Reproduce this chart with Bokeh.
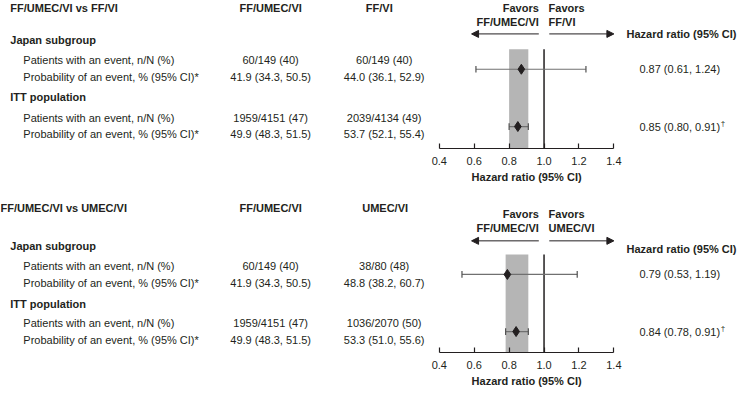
from bokeh.plotting import figure
from bokeh.layouts import column
from bokeh.models import Range1d, FixedTicker, PrintfTickFormatter, Arrow, NormalHead, Title
from bokeh.core.properties import value
from bokeh.embed import file_html
from bokeh.resources import INLINE

# ---------------- data ----------------
comparisons = ["FF/UMEC/VI vs FF/VI", "FF/UMEC/VI vs UMEC/VI"]
treatment = "FF/UMEC/VI"
comparators = ["FF/VI", "UMEC/VI"]
groups = ["Japan subgroup", "ITT population"]
row_labels = ["Patients with an event, n/N (%)", "Probability of an event, % (95% CI)*"]

trt_events = ["60/149 (40)", "1959/4151 (47)"]
trt_prob = ["41.9 (34.3, 50.5)", "49.9 (48.3, 51.5)"]

ffvi_events = ["60/149 (40)", "2039/4134 (49)"]
ffvi_prob = ["44.0 (36.1, 52.9)", "53.7 (52.1, 55.4)"]
umecvi_events = ["38/80 (48)", "1036/2070 (50)"]
umecvi_prob = ["48.8 (38.2, 60.7)", "53.3 (51.0, 55.6)"]

hr_ffvi = [0.87, 0.85]
lo_ffvi = [0.61, 0.80]
hi_ffvi = [1.24, 0.91]
hr_umecvi = [0.79, 0.84]
lo_umecvi = [0.53, 0.78]
hi_umecvi = [1.19, 0.91]
footnote_marks = ["", "\u2020"]

hr_ticks = [0.4, 0.6, 0.8, 1.0, 1.2, 1.4]
axis_title = "Hazard ratio (95% CI)"

# ---------------- style ----------------
FONT = "Liberation Sans"
TXT = "#231f20"
FS = "11px"
REF_W = 753.0
CANVAS_W = 737
AX0_PX, AX1_PX = 448.3, 626.7          # pixel anchors of HR 0.4 and 1.4
per = (AX1_PX - AX0_PX) / (hr_ticks[-1] - hr_ticks[0])
HR_START = hr_ticks[0] - AX0_PX / per
HR_END = hr_ticks[-1] + (REF_W - AX1_PX) / per
TITLE_W = 110  # approx rendered width of the bold axis title
title_offset = ((AX0_PX + AX1_PX) / 2) * CANVAS_W / REF_W - TITLE_W / 2


def make_panel(comp_title, comp_name, comp_events, comp_prob, hr, lo, hi, L):
    p = figure(frame_width=CANVAS_W, frame_height=L["frame_h"],
               x_range=Range1d(HR_START, HR_END),
               y_range=Range1d(L["axis_y"], L["y_top"]),
               output_backend="svg", toolbar_location=None,
               y_axis_location=None,
               min_border_left=0, min_border_right=0, min_border_top=0,
               min_border_bottom=L["mb"])
    p.extra_x_ranges = {"px": Range1d(0, REF_W)}
    p.grid.visible = False
    p.outline_line_color = None
    p.background_fill_color = "white"
    p.border_fill_color = "white"

    def txt(x, y, t, align="left", bold=False, size=FS):
        p.text(x=[x], y=[y], text=[t], x_range_name="px",
               text_font=value(FONT), text_font_size=size,
               text_font_style="bold" if bold else "normal",
               text_color=TXT, text_align=align, text_baseline="middle")

    # headers
    txt(L["title_x"], L["head_y"], comp_title, bold=True)
    txt(276, L["head_y"], treatment, align="center", bold=True)
    txt(L["comp_x"], L["head_y"], comp_name, align="center", bold=True)
    txt(550, L["fav_y"][0], "Favors", align="right", bold=True)
    txt(550, L["fav_y"][1], treatment, align="right", bold=True)
    txt(560, L["fav_y"][0], "Favors", align="left", bold=True)
    txt(560, L["fav_y"][1], comp_name, align="left", bold=True)
    txt(752, L["hrh_y"], axis_title, align="right", bold=True)

    # arrows
    head = dict(size=7, fill_color=TXT, line_color=TXT)
    p.add_layout(Arrow(x_start=0.97, y_start=L["arrow_y"], x_end=0.585, y_end=L["arrow_y"],
                       end=NormalHead(**head), line_color=TXT, line_width=1))
    p.add_layout(Arrow(x_start=1.03, y_start=L["arrow_y"], x_end=1.4, y_end=L["arrow_y"],
                       end=NormalHead(**head), line_color=TXT, line_width=1))

    # table rows
    for i in range(2):
        txt(10, L["group_y"][i], groups[i], bold=True)
        ry0, ry1 = L["rows"][i]
        txt(23.3, ry0, row_labels[0])
        txt(23.3, ry1, row_labels[1])
        txt(276, ry0, trt_events[i], align="center")
        txt(276, ry1, trt_prob[i], align="center")
        txt(392, ry0, comp_events[i], align="center")
        txt(392, ry1, comp_prob[i], align="center")
        lab = "%.2f (%.2f, %.2f)" % (hr[i], lo[i], hi[i])
        txt(694, L["pts"][i], lab, align="center")
        if footnote_marks[i]:
            txt(736, L["pts"][i] - 3, footnote_marks[i], size="8px")

    # reference band (ITT CI) and line of no effect
    p.quad(left=[lo[1]], right=[hi[1]], top=[L["band_top"]], bottom=[L["axis_y"]],
           fill_color="#b5b5b5", line_color=None)
    p.segment(x0=[1.0], y0=[L["band_top"]], x1=[1.0], y1=[L["axis_y"]],
              line_color=TXT, line_width=1.5)

    # CI whiskers
    ys = L["pts"]
    p.segment(x0=lo, y0=ys, x1=hi, y1=ys, line_color="#707070", line_width=1.2)
    cy0 = [y - 3.5 for y in ys]
    cy1 = [y + 3.5 for y in ys]
    p.segment(x0=lo, y0=cy0, x1=lo, y1=cy1, line_color="#505050", line_width=1.2)
    p.segment(x0=hi, y0=cy0, x1=hi, y1=cy1, line_color="#505050", line_width=1.2)
    p.scatter(x=hr, y=ys, marker="diamond", size=10, color=TXT)

    # axis
    ax = p.xaxis[0]
    ax.bounds = (hr_ticks[0], hr_ticks[-1])
    ax.ticker = FixedTicker(ticks=hr_ticks)
    ax.formatter = PrintfTickFormatter(format="%.1f")
    ax.minor_tick_line_color = None
    ax.major_tick_in = 5
    ax.major_tick_out = 0
    ax.axis_line_color = TXT
    ax.major_tick_line_color = TXT
    ax.axis_line_width = 1.2
    ax.major_tick_line_width = 1.2
    ax.major_label_standoff = 8
    ax.major_label_text_font = FONT
    ax.major_label_text_font_size = FS
    ax.major_label_text_color = TXT

    # axis title under the bounded axis
    p.add_layout(Title(text=axis_title, align="left", offset=title_offset,
                       standoff=7, vertical_align="top",
                       text_font=FONT, text_font_size=FS, text_font_style="bold",
                       text_color=TXT), "below")
    return p


L_top = dict(frame_h=148, y_top=-2, axis_y=153, mb=46, head_y=6, title_x=10, comp_x=387,
             fav_y=(6, 20), arrow_y=33, hrh_y=33, group_y=(39.3, 99.0),
             rows=((60.7, 78.3), (120.7, 138.3)), pts=(70, 130), band_top=49)
L_bot = dict(frame_h=158, y_top=207, axis_y=373, mb=44, head_y=221.7, title_x=0, comp_x=393,
             fav_y=(227.7, 241.7), arrow_y=255.7, hrh_y=264.3, group_y=(261.0, 321.7),
             rows=((281.7, 300.0), (341.7, 360.0)), pts=(291, 351), band_top=270)

p1 = make_panel(comparisons[0], comparators[0], ffvi_events, ffvi_prob,
                hr_ffvi, lo_ffvi, hi_ffvi, L_top)
p2 = make_panel(comparisons[1], comparators[1], umecvi_events, umecvi_prob,
                hr_umecvi, lo_umecvi, hi_umecvi, L_bot)

layout = column(p1, p2, spacing=0)
open("out.html", "w").write(file_html(layout, INLINE))
